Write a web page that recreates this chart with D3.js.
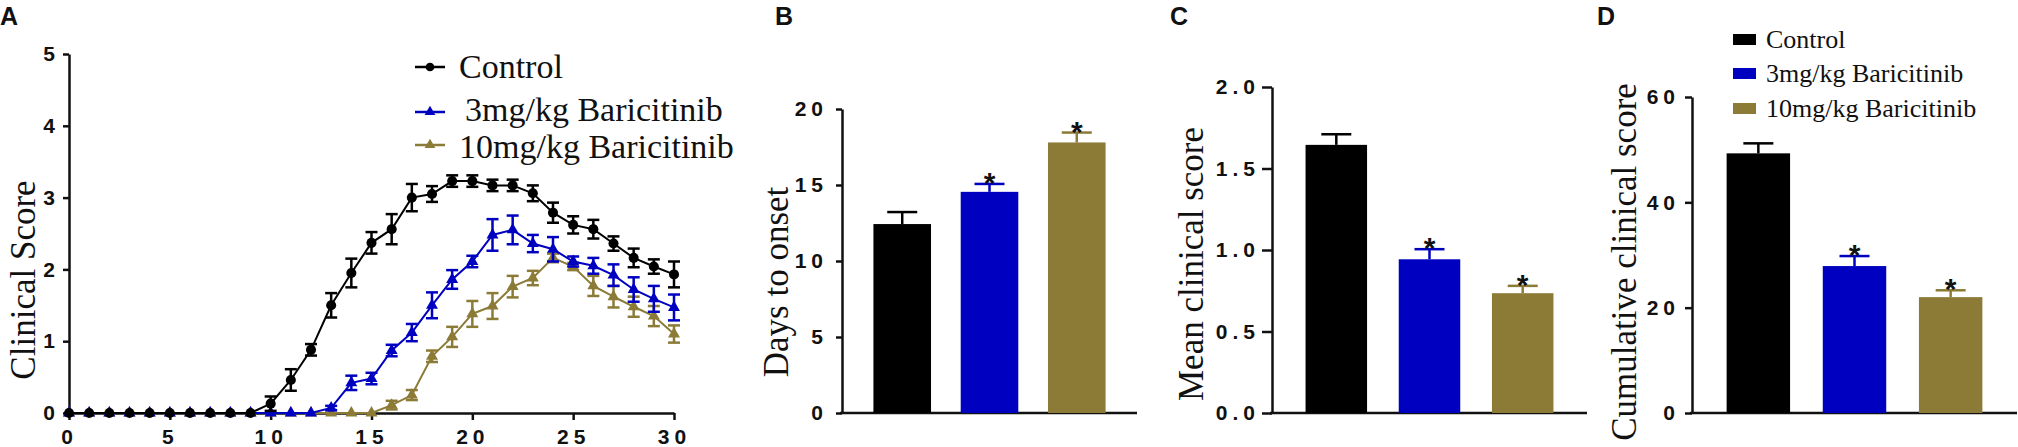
<!DOCTYPE html>
<html>
<head>
<meta charset="utf-8">
<script src="https://cdn.jsdelivr.net/npm/d3@7"></script>
<style>
  body { margin: 0; background: #fff; }
  svg { display: block; }
  .tick text { font-family: "Liberation Sans", Arial, sans-serif; font-weight: bold; font-size: 21px; letter-spacing: 5px; fill: #111; }
  .title { font-family: "Liberation Serif", "Times New Roman", serif; font-size: 35px; fill: #111; }
  .panel { font-family: "Liberation Sans", Arial, sans-serif; font-weight: bold; font-size: 25px; fill: #111; }
  .legA { font-family: "Liberation Serif", "Times New Roman", serif; font-size: 34px; fill: #111; }
  .legD { font-family: "Liberation Serif", "Times New Roman", serif; font-size: 26px; fill: #111; }
  .star { font-family: "Liberation Sans", Arial, sans-serif; font-weight: bold; font-size: 30px; fill: #111; }
</style>
</head>
<body>
<svg id="chart" width="2018" height="447"></svg>
<script>
// ---- data ----
const groups = ["Control", "3mg/kg Baricitinib", "10mg/kg Baricitinib"];
const colors = ["#000000", "#0000c0", "#8b7b37"];

const days = [0,1,2,3,4,5,6,7,8,9,10,11,12,13,14,15,16,17,18,19,20,21,22,23,24,25,26,27,28,29,30];

const controlMean = [0,0,0,0,0,0,0,0,0,0, 0.13,0.46,0.88,1.50,1.95,2.37,2.56,3.00,3.05,3.23,3.23,3.17,3.17,3.06,2.79,2.62,2.56,2.36,2.16,2.04,1.93];
const controlSem  = [0,0,0,0,0,0,0,0,0,0, 0.10,0.15,0.08,0.17,0.20,0.15,0.21,0.19,0.11,0.08,0.08,0.08,0.08,0.11,0.14,0.12,0.13,0.10,0.13,0.10,0.18];

const bari3Mean = [0,0,0,0,0,0,0,0,0,0, 0,0,0,0.07,0.42,0.48,0.87,1.12,1.50,1.86,2.11,2.48,2.55,2.36,2.28,2.11,2.05,1.92,1.72,1.59,1.47];
const bari3Sem  = [0,0,0,0,0,0,0,0,0,0, 0,0,0,0.03,0.10,0.08,0.08,0.12,0.18,0.13,0.08,0.22,0.20,0.12,0.17,0.07,0.11,0.15,0.17,0.18,0.18];

const bari10Mean = [0,0,0,0,0,0,0,0,0,0, 0,0,0,0,0,0,0.11,0.25,0.79,1.06,1.38,1.49,1.76,1.88,2.16,2.04,1.77,1.62,1.48,1.35,1.10];
const bari10Sem  = [0,0,0,0,0,0,0,0,0,0, 0,0,0,0,0,0,0.06,0.07,0.08,0.14,0.18,0.18,0.15,0.10,0.06,0.05,0.14,0.15,0.14,0.14,0.12];

const xTicksA = [0,5,10,15,20,25,30];
const yTicksA = [0,1,2,3,4,5];

const onsetMean = [12.43, 14.55, 17.80];
const onsetSem  = [0.79, 0.52, 0.65];
const onsetTicks = [0,5,10,15,20];

const meanScore = [1.645, 0.943, 0.735];
const meanScoreSem = [0.065, 0.062, 0.045];
const meanTicks = [0.0,0.5,1.0,1.5,2.0];

const cumScore = [49.3, 27.9, 22.0];
const cumScoreSem = [1.9, 1.9, 1.3];
const cumTicks = [0,20,40,60];

const significant = [false, true, true];

// ---- drawing ----
const svg = d3.select("#chart");

function styleAxis(g) {
  g.select(".domain").attr("stroke", "#111").attr("stroke-width", 2.5);
  g.selectAll(".tick line").attr("stroke", "#111").attr("stroke-width", 2.5);
}

function panelLabel(txt, x) {
  svg.append("text").attr("class", "panel").attr("x", x).attr("y", 25).text(txt);
}

function yTitle(txt, x, cy) {
  svg.append("text").attr("class", "title")
    .attr("transform", `translate(${x},${cy}) rotate(-90)`)
    .attr("text-anchor", "middle")
    .text(txt);
}

// Panel A
panelLabel("A", 0);
const xA = d3.scaleLinear().domain([0, 30]).range([69, 674]);
const yA = d3.scaleLinear().domain([0, 5]).range([413, 54]);

svg.append("g").attr("transform", "translate(0,413)")
  .call(d3.axisBottom(xA).tickValues(xTicksA).tickSize(7).tickSizeOuter(0).tickPadding(9).tickFormat(d3.format("d")))
  .call(styleAxis);
svg.append("g").attr("transform", "translate(69,0)")
  .call(d3.axisLeft(yA).tickValues(yTicksA).tickSize(6).tickSizeOuter(0).tickPadding(3).tickFormat(d3.format("d")))
  .call(styleAxis);
yTitle("Clinical Score", 35, 280);

const seriesA = [
  { mean: bari10Mean, sem: bari10Sem, color: colors[2], shape: d3.symbolTriangle, size: 62 },
  { mean: bari3Mean,  sem: bari3Sem,  color: colors[1], shape: d3.symbolTriangle, size: 62 },
  { mean: controlMean, sem: controlSem, color: colors[0], shape: d3.symbolCircle, size: 80 }
];

const lineA = d3.line().x(d => xA(d.day)).y(d => yA(d.mean));

seriesA.forEach(s => {
  const pts = days.map((d, i) => ({ day: d, mean: s.mean[i], sem: s.sem[i] }));
  const g = svg.append("g");
  g.append("path").datum(pts)
    .attr("d", lineA).attr("fill", "none")
    .attr("stroke", s.color).attr("stroke-width", 2);
  const eb = g.selectAll(".eb").data(pts.filter(p => p.sem > 0)).join("g");
  eb.append("line")
    .attr("x1", d => xA(d.day)).attr("x2", d => xA(d.day))
    .attr("y1", d => yA(d.mean - d.sem)).attr("y2", d => yA(d.mean + d.sem));
  eb.append("line")
    .attr("x1", d => xA(d.day) - 6).attr("x2", d => xA(d.day) + 6)
    .attr("y1", d => yA(d.mean + d.sem)).attr("y2", d => yA(d.mean + d.sem));
  eb.append("line")
    .attr("x1", d => xA(d.day) - 6).attr("x2", d => xA(d.day) + 6)
    .attr("y1", d => yA(d.mean - d.sem)).attr("y2", d => yA(d.mean - d.sem));
  eb.selectAll("line").attr("stroke", s.color).attr("stroke-width", 2.5);
  g.selectAll(".pt").data(pts).join("path")
    .attr("transform", d => `translate(${xA(d.day)},${yA(d.mean)})`)
    .attr("d", d3.symbol().type(s.shape).size(s.size))
    .attr("fill", s.color);
});

// legend A
const legA = [
  { label: groups[0], color: colors[0], shape: d3.symbolCircle, size: 60, sy: 67, ty: 78, tx: 459 },
  { label: groups[1], color: colors[1], shape: d3.symbolTriangle, size: 50, sy: 112, ty: 121, tx: 465 },
  { label: groups[2], color: colors[2], shape: d3.symbolTriangle, size: 50, sy: 145, ty: 158, tx: 459 }
];
legA.forEach(l => {
  svg.append("line").attr("x1", 415).attr("x2", 445).attr("y1", l.sy).attr("y2", l.sy)
    .attr("stroke", l.color).attr("stroke-width", 2.5);
  svg.append("path").attr("transform", `translate(430,${l.sy})`)
    .attr("d", d3.symbol().type(l.shape).size(l.size)).attr("fill", l.color);
  svg.append("text").attr("class", "legA").attr("x", l.tx).attr("y", l.ty).text(l.label);
});

// Bar panels
function barPanel(cfg) {
  const x = d3.scaleBand().domain(groups).range([cfg.x0, cfg.x1])
    .paddingInner(0.34).paddingOuter(0.36);
  const y = d3.scaleLinear().domain(cfg.domain).range([413, cfg.top]);

  svg.append("g").attr("transform", `translate(${cfg.x0},0)`)
    .call(d3.axisLeft(y).tickValues(cfg.ticks).tickSize(cfg.tick).tickSizeOuter(0).tickPadding(cfg.pad).tickFormat(cfg.fmt))
    .call(styleAxis);
  svg.append("line").attr("x1", cfg.x0 - 2).attr("x2", cfg.x1).attr("y1", 413).attr("y2", 413)
    .attr("stroke", "#111").attr("stroke-width", 2.5);

  const rows = groups.map((g, i) => ({ g, v: cfg.values[i], e: cfg.errs[i], c: colors[i], s: significant[i] }));
  const g = svg.append("g");
  // error stems first so the bar covers the lower half
  g.selectAll(".stem").data(rows).join("line")
    .attr("x1", d => x(d.g) + x.bandwidth() / 2).attr("x2", d => x(d.g) + x.bandwidth() / 2)
    .attr("y1", d => y(d.v)).attr("y2", d => y(d.v + d.e))
    .attr("stroke", d => d.c).attr("stroke-width", 2.5);
  g.selectAll(".cap").data(rows).join("line")
    .attr("x1", d => x(d.g) + x.bandwidth() / 2 - 15).attr("x2", d => x(d.g) + x.bandwidth() / 2 + 15)
    .attr("y1", d => y(d.v + d.e)).attr("y2", d => y(d.v + d.e))
    .attr("stroke", d => d.c).attr("stroke-width", 2.5);
  g.selectAll("rect").data(rows).join("rect")
    .attr("x", d => x(d.g)).attr("width", x.bandwidth())
    .attr("y", d => y(d.v)).attr("height", d => 413 - y(d.v))
    .attr("fill", d => d.c);
  g.selectAll(".star").data(rows.filter(d => d.s)).join("text")
    .attr("class", "star").attr("text-anchor", "middle")
    .attr("x", d => x(d.g) + x.bandwidth() / 2)
    .attr("y", d => y(d.v + d.e) + 9)
    .text("*");

  yTitle(cfg.title, cfg.tx, cfg.ty);
}

panelLabel("B", 775);
barPanel({ x0: 842, x1: 1137, top: 109, domain: [0, 20], ticks: onsetTicks, values: onsetMean, errs: onsetSem,
  tick: 6, pad: 8, fmt: d3.format("d"), title: "Days to onset", tx: 788, ty: 282 });

panelLabel("C", 1170);
barPanel({ x0: 1272, x1: 1587, top: 87, domain: [0, 2], ticks: meanTicks, values: meanScore, errs: meanScoreSem,
  tick: 10, pad: 2, fmt: d3.format(".1f"), title: "Mean clinical score", tx: 1203, ty: 264 });

panelLabel("D", 1597);
barPanel({ x0: 1692, x1: 2017, top: 97, domain: [0, 60], ticks: cumTicks, values: cumScore, errs: cumScoreSem,
  tick: 7, pad: 5, fmt: d3.format("d"), title: "Cumulative clinical score", tx: 1636, ty: 262 });

// legend D
const legD = [
  { label: groups[0], color: colors[0], sy: 34, ty: 48 },
  { label: groups[1], color: colors[1], sy: 68, ty: 82 },
  { label: groups[2], color: colors[2], sy: 103, ty: 117 }
];
legD.forEach(l => {
  svg.append("rect").attr("x", 1733).attr("y", l.sy).attr("width", 23).attr("height", 11).attr("fill", l.color);
  svg.append("text").attr("class", "legD").attr("x", 1766).attr("y", l.ty).text(l.label);
});
</script>
</body>
</html>
